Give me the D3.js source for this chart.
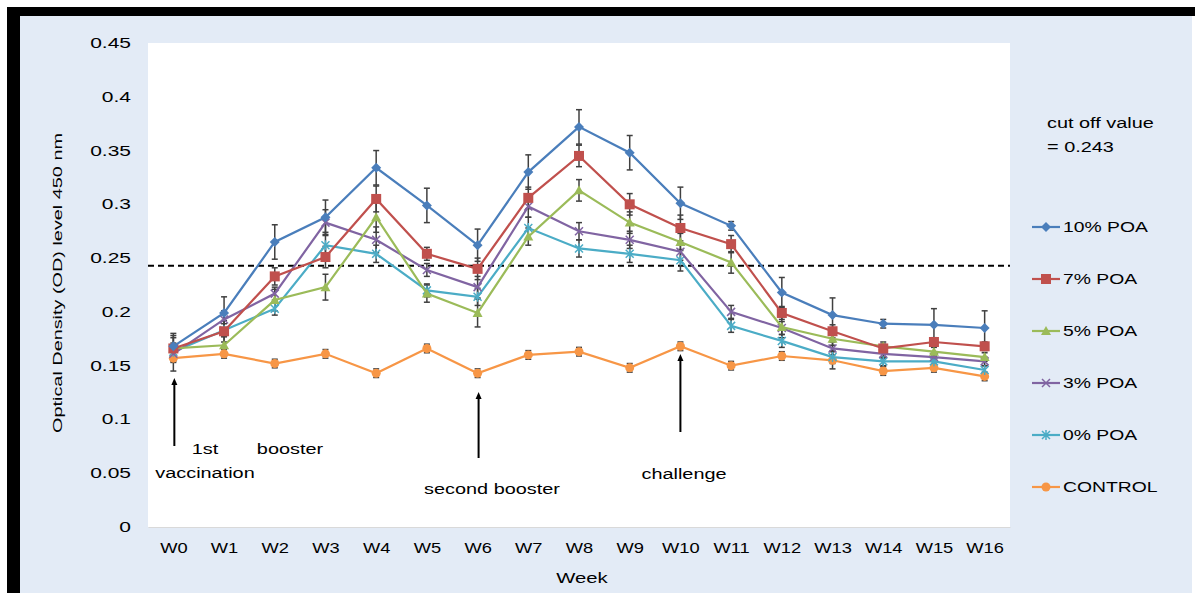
<!DOCTYPE html>
<html>
<head>
<meta charset="utf-8">
<script src="https://cdn.jsdelivr.net/npm/d3@7"></script>
<style>
  body { margin: 0; background: #fff; }
  svg { display: block; font-family: "Liberation Sans", Arial, sans-serif; }
</style>
</head>
<body>
<script>
const weeks = ["W0","W1","W2","W3","W4","W5","W6","W7","W8","W9","W10","W11","W12","W13","W14","W15","W16"];
const yTicks = [0, 0.05, 0.1, 0.15, 0.2, 0.25, 0.3, 0.35, 0.4, 0.45];
const cutoff = 0.243;

const poa10 = [0.168,0.199,0.265,0.288,0.334,0.299,0.262,0.330,0.372,0.348,0.301,0.280,0.218,0.197,0.189,0.188,0.185];
const poa7  = [0.166,0.182,0.233,0.251,0.305,0.254,0.240,0.306,0.345,0.300,0.278,0.263,0.199,0.182,0.166,0.172,0.168];
const poa5  = [0.166,0.169,0.211,0.223,0.288,0.217,0.199,0.270,0.313,0.283,0.265,0.246,0.186,0.175,0.168,0.163,0.158];
const poa3  = [0.161,0.193,0.217,0.283,0.267,0.239,0.223,0.298,0.275,0.267,0.256,0.200,0.185,0.166,0.161,0.158,0.154];
const poa0  = [0.163,0.183,0.203,0.262,0.254,0.220,0.214,0.278,0.259,0.254,0.248,0.187,0.173,0.158,0.154,0.154,0.146];
const control = [0.157,0.161,0.152,0.161,0.143,0.166,0.143,0.160,0.163,0.148,0.168,0.150,0.159,0.155,0.145,0.148,0.140];

// standard errors (only some show up past the markers)
const err10 = [0.012,0.015,0.016,0.016,0.016,0.016,0.015,0.016,0.016,0.016,0.015,0.004,0.014,0.016,0.004,0.015,0.016];
const err7  = [0.010,0.010,0.008,0.010,0.012,0.006,0.010,0.010,0.010,0.010,0.012,0.008,0.006,0.006,0.004,0.004,0.004];
const err5  = [0.012,0.008,0.010,0.012,0.014,0.008,0.013,0.008,0.010,0.010,0.008,0.010,0.010,0.006,0.004,0.004,0.004];
const err3  = [0.008,0.008,0.006,0.012,0.012,0.006,0.010,0.010,0.008,0.008,0.008,0.006,0.006,0.006,0.004,0.004,0.004];
const err0  = [0.008,0.006,0.006,0.012,0.008,0.006,0.008,0.010,0.008,0.008,0.010,0.006,0.006,0.006,0.004,0.004,0.004];
const errC  = [0.012,0.004,0.004,0.004,0.004,0.004,0.004,0.004,0.004,0.004,0.004,0.004,0.004,0.008,0.004,0.004,0.004];

const seriesNames = ["10% POA","7% POA","5% POA","3% POA","0% POA","CONTROL"];
const seriesValues = [poa10, poa7, poa5, poa3, poa0, control];
const seriesErrors = [err10, err7, err5, err3, err0, errC];
const colors = ["#4a7ebb","#c0504d","#9bbb59","#8064a2","#4bacc6","#f79646"];
const markers = ["diamond","square","triangle","cross","star","circle"];

const W = 1195, H = 593;
const SX = 1.42; // the source picture is stretched sideways
const svg = d3.select("body").append("svg").attr("width", W).attr("height", H);

// frame
svg.append("rect").attr("x", 0).attr("y", 0).attr("width", W).attr("height", H).attr("fill", "#fff");
svg.append("rect").attr("x", 20).attr("y", 16).attr("width", 1172).attr("height", H - 16).attr("fill", "#e3ebf6");
svg.append("rect").attr("x", 7).attr("y", 7).attr("width", W - 7).attr("height", 9).attr("fill", "#000");
svg.append("rect").attr("x", 7).attr("y", 7).attr("width", 13).attr("height", H - 7).attr("fill", "#000");

const plot = { left: 148, top: 43, right: 1010, bottom: 527 };
svg.append("rect").attr("x", plot.left).attr("y", plot.top)
  .attr("width", plot.right - plot.left).attr("height", plot.bottom - plot.top).attr("fill", "#fff");

const x = d3.scalePoint().domain(weeks).range([plot.left, plot.right]).padding(0.5);
const y = d3.scaleLinear().domain([0, 0.45]).range([plot.bottom, plot.top]);

// wide text helper
function wideText(parent, tx, ty, str, opts = {}) {
  const s = opts.sx || SX;
  return parent.append("text")
    .attr("transform", `translate(${tx},${ty}) scale(${s},1)`)
    .attr("text-anchor", opts.anchor || "start")
    .attr("font-size", opts.size || 14)
    .attr("fill", "#000")
    .text(str);
}

// y axis
const yAxis = svg.append("g").attr("transform", `translate(${plot.left},0)`)
  .call(d3.axisLeft(y).tickValues(yTicks).tickSize(0).tickPadding(17).tickFormat(d => d3.format("~g")(d)));
yAxis.select(".domain").remove();
yAxis.selectAll("text").attr("font-size", 14).attr("fill", "#000")
  .attr("x", -17 / 1.5).attr("transform", "scale(1.5,1)");

// x axis
const xAxis = svg.append("g").attr("transform", `translate(0,${plot.bottom})`)
  .call(d3.axisBottom(x).tickSize(0).tickPadding(15));
xAxis.select(".domain").attr("stroke", "#d9d9d9");
xAxis.selectAll("text").attr("font-size", 15).attr("fill", "#000").attr("transform", "scale(1.22,1)");

wideText(svg, 582, 583, "Week", { anchor: "middle", size: 14, sx: 1.45 });
svg.append("text").attr("transform", "translate(62,283) rotate(-90) scale(1.47,1)").attr("text-anchor", "middle")
  .attr("font-size", 13.5).text("Optical Density (OD) level 450 nm");

// cutoff line
svg.append("line").attr("x1", plot.left).attr("x2", plot.right)
  .attr("y1", y(cutoff)).attr("y2", y(cutoff))
  .attr("stroke", "#000").attr("stroke-width", 2).attr("stroke-dasharray", "6,4");

// error bars
seriesValues.forEach((vals, si) => {
  const g = svg.append("g").attr("stroke", "#404040").attr("stroke-width", 1.5);
  vals.forEach((v, i) => {
    const e = seriesErrors[si][i];
    const cx = x(weeks[i]);
    g.append("line").attr("x1", cx).attr("x2", cx).attr("y1", y(v + e)).attr("y2", y(v - e));
    [v + e, v - e].forEach(t => g.append("line").attr("x1", cx - 3).attr("x2", cx + 3).attr("y1", y(t)).attr("y2", y(t)));
  });
});

function drawMarker(g, type, cx, cy, color) {
  if (type === "diamond") {
    g.append("path").attr("d", `M${cx},${cy-5}L${cx+5},${cy}L${cx},${cy+5}L${cx-5},${cy}Z`).attr("fill", color);
  } else if (type === "square") {
    g.append("rect").attr("x", cx - 5).attr("y", cy - 5).attr("width", 10).attr("height", 10).attr("fill", color);
  } else if (type === "triangle") {
    g.append("path").attr("d", `M${cx},${cy-5}L${cx+5},${cy+4}L${cx-5},${cy+4}Z`).attr("fill", color);
  } else if (type === "cross") {
    g.append("path").attr("d", `M${cx-4},${cy-4}L${cx+4},${cy+4}M${cx-4},${cy+4}L${cx+4},${cy-4}`).attr("stroke", color).attr("stroke-width", 1.5);
  } else if (type === "star") {
    g.append("path").attr("d", `M${cx-4},${cy-4}L${cx+4},${cy+4}M${cx-4},${cy+4}L${cx+4},${cy-4}M${cx},${cy-5}L${cx},${cy+5}`).attr("stroke", color).attr("stroke-width", 1.5);
  } else {
    g.append("circle").attr("cx", cx).attr("cy", cy).attr("r", 4.5).attr("fill", color);
  }
}

const line = d3.line().x((d, i) => x(weeks[i])).y(d => y(d));

// draw in reverse so 10% is on top
for (let si = seriesValues.length - 1; si >= 0; si--) {
  const g = svg.append("g");
  g.append("path").datum(seriesValues[si]).attr("d", line)
    .attr("fill", "none").attr("stroke", colors[si]).attr("stroke-width", 2.2);
  seriesValues[si].forEach((v, i) => drawMarker(g, markers[si], x(weeks[i]), y(v), colors[si]));
}

// annotations
function arrow(xPos, yTop, yBottom) {
  svg.append("line").attr("x1", xPos).attr("x2", xPos).attr("y1", yTop + 4).attr("y2", yBottom)
    .attr("stroke", "#000").attr("stroke-width", 2);
  svg.append("path").attr("d", `M${xPos},${yTop}L${xPos+3},${yTop+7}L${xPos-3},${yTop+7}Z`).attr("fill", "#000");
}
arrow(x("W0") + 1, 378, 446);
arrow(x("W6") + 1, 392, 458);
arrow(x("W10"), 354, 432);

const notes = [
  { t: "1st", x: 205, y: 454 },
  { t: "booster", x: 290, y: 454 },
  { t: "vaccination", x: 205, y: 478 },
  { t: "second booster", x: 492, y: 494 },
  { t: "challenge", x: 684, y: 479 }
];
notes.forEach(d => wideText(svg, d.x, d.y, d.t, { anchor: "middle" }));

// cutoff label
wideText(svg, 1047, 128, "cut off value");
wideText(svg, 1047, 152, "= 0.243");

// legend
const legend = svg.append("g");
seriesNames.forEach((name, si) => {
  const ly = 227 + si * 52;
  legend.append("line").attr("x1", 1032).attr("x2", 1060).attr("y1", ly).attr("y2", ly)
    .attr("stroke", colors[si]).attr("stroke-width", 2.2);
  drawMarker(legend, markers[si], 1046, ly, colors[si]);
  wideText(legend, 1063, ly + 5, name, { sx: 1.38 });
});
</script>
</body>
</html>
